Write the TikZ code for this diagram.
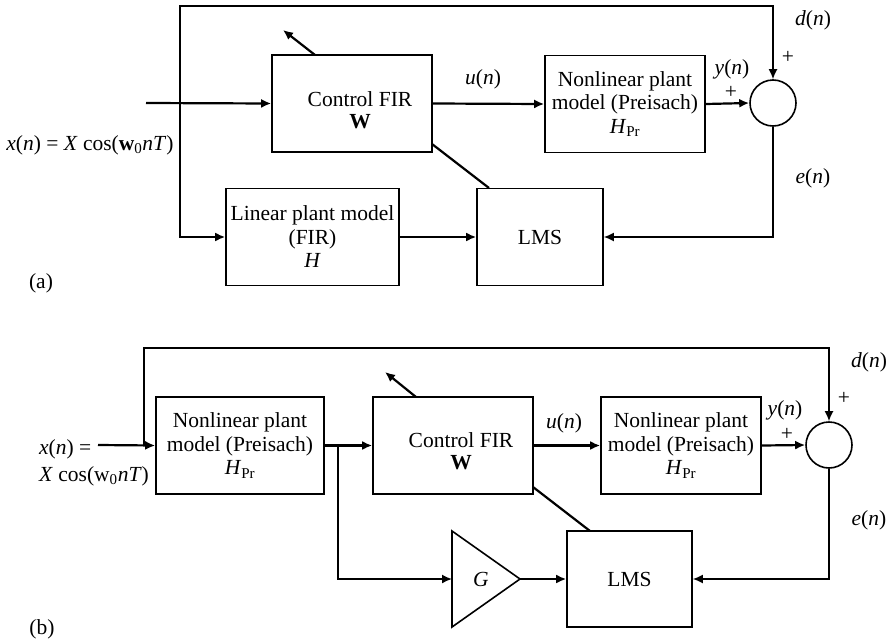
\documentclass[tikz,border=0pt]{standalone}
\usepackage{fontspec}
\setmainfont{Liberation Serif}
\usetikzlibrary{arrows.meta}
\begin{document}
\begin{tikzpicture}[x=1pt,y=-1pt,
  font=\fontsize{21.5}{23.5}\selectfont,
  box/.style={draw, line width=1.6pt, minimum width=#1, minimum height=97pt, inner sep=0pt, align=center},
  sumnode/.style={circle, draw, line width=1.6pt, minimum size=46pt, inner sep=0pt},
  tip/.style={-{Latex[length=10pt,width=9pt]}},
  wire/.style={line width=2.2pt},
  fb/.style={line width=1.6pt},
  lbl/.style={inner sep=0pt}]
\useasboundingbox (0,0) rectangle (889,640);

% ---------------- (a) ----------------
\node[box=160pt] (ctrlA) at (352,103.5) {};
\node[lbl, align=center] (ctrlAt) at (360,110) {Control FIR\\[-1pt]\textbf{W}};
\node[box=160pt] (nlA) at (625,104) {Nonlinear plant\\model (Preisach)\\\textit{H}\textsubscript{Pr}};
\node[box=173pt] (linA) at (312.5,237) {Linear plant model\\(FIR)\\\textit{H}};
\node[box=126pt] (lmsA) at (540,237) {LMS};
\node[sumnode] (sumA) at (773,103) {};

\coordinate (inA) at (146,103);
\coordinate (jA) at (180,103);
\coordinate (tlA) at (180,6);
\coordinate (dA1) at (432,144);
\coordinate (dA2) at (489,188);
\coordinate (aA1) at (315,55);
\coordinate (aA2) at (283,30);

\draw[wire,tip] (inA) -- (ctrlA.west);
\draw[fb,tip] (jA) -- (tlA) -| (sumA.north);
\draw[wire,tip] (jA) |- (linA.west);
\draw[wire,tip] (ctrlA.east) -- (nlA.west);
\draw[wire,tip] (nlA.east) -- (sumA.west);
\draw[fb,tip] (sumA.south) |- (lmsA.east);
\draw[wire,tip] (linA.east) -- (lmsA.west);
\draw[wire] (dA1) -- (dA2);
\draw[wire,tip] (aA1) -- (aA2);

\node[lbl] (uA) at (483,79) {\textit{u}(\textit{n})};
\node[lbl] (yA) at (732,69) {\textit{y}(\textit{n})};
\node[lbl] (pyA) at (731,92) {+};
\node[lbl] (dA) at (813,20) {\textit{d}(\textit{n})};
\node[lbl] (pdA) at (788,57) {+};
\node[lbl] (eA) at (813,178) {\textit{e}(\textit{n})};
\node[lbl] (xA) at (90,145) {\textit{x}(\textit{n}) = \textit{X} cos(\textbf{w}\textsubscript{0}\textit{nT})};
\node[lbl] (labA) at (41,283) {(a)};

% ---------------- (b) ----------------
\node[box=168pt] (nl1B) at (240,445.5) {Nonlinear plant\\model (Preisach)\\\textit{H}\textsubscript{Pr}};
\node[box=160pt] (ctrlB) at (453,445.5) {};
\node[lbl, align=center] (ctrlBt) at (461,451) {Control FIR\\[-1pt]\textbf{W}};
\node[box=160pt] (nl2B) at (681,445.5) {Nonlinear plant\\model (Preisach)\\\textit{H}\textsubscript{Pr}};
\node[sumnode] (sumB) at (829,445) {};
\node[box=125pt, minimum height=96pt] (lmsB) at (629.5,579) {LMS};

\coordinate (gL) at (452,579);
\coordinate (gTop) at (452,531);
\coordinate (gBot) at (452,627);
\coordinate (gTip) at (520,579);
\draw[line width=1.6pt] (gTop) -- (gTip) -- (gBot) -- cycle;
\node[lbl] (G) at (481,579) {\textit{G}};

\coordinate (inB) at (98,445);
\coordinate (jB) at (144,445);
\coordinate (tlB) at (144,348);
\coordinate (brB) at (338,445);
\coordinate (dB1) at (533,487);
\coordinate (dB2) at (590,531);
\coordinate (aB1) at (416,397);
\coordinate (aB2) at (385,372);

\draw[wire,tip] (inB) -- (nl1B.west);
\draw[fb,tip] (jB) -- (tlB) -| (sumB.north);
\draw[wire,tip] (nl1B.east) -- (ctrlB.west);
\draw[fb,tip] (brB) |- (gL);
\draw[wire,tip] (gTip) -- (lmsB.west);
\draw[wire,tip] (ctrlB.east) -- (nl2B.west);
\draw[wire,tip] (nl2B.east) -- (sumB.west);
\draw[fb,tip] (sumB.south) |- (lmsB.east);
\draw[wire] (dB1) -- (dB2);
\draw[wire,tip] (aB1) -- (aB2);

\node[lbl] (uB) at (564,423) {\textit{u}(\textit{n})};
\node[lbl] (yB) at (785,410) {\textit{y}(\textit{n})};
\node[lbl] (pyB) at (787,434) {+};
\node[lbl] (dB) at (869,362) {\textit{d}(\textit{n})};
\node[lbl] (pdB) at (844,398) {+};
\node[lbl] (eB) at (869,520) {\textit{e}(\textit{n})};
\node[lbl, anchor=west, align=left] (xB) at (39,463) {\textit{x}(\textit{n}) =\\[3pt]\textit{X} cos(w\textsubscript{0}\textit{nT})};
\node[lbl] (labB) at (42,629) {(b)};
\end{tikzpicture}
\end{document}
